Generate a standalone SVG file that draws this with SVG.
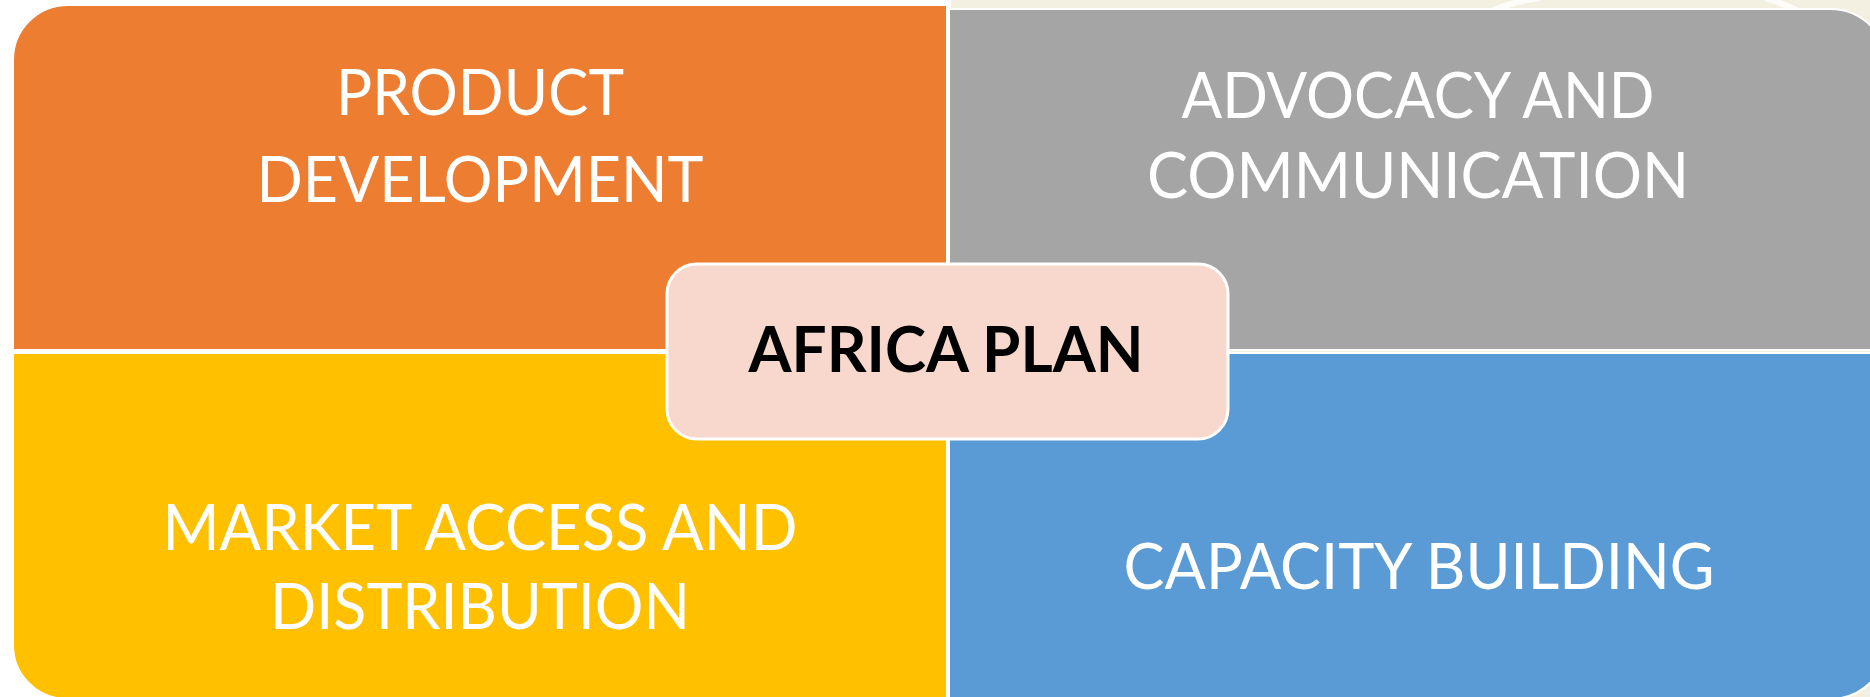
<svg xmlns="http://www.w3.org/2000/svg" width="1870" height="697" viewBox="0 0 1870 697">
<style>
.q{stroke:#ffffff;stroke-width:2}
.t{font-family:Lato,"Open Sans","Liberation Sans",sans-serif;font-size:64px;fill:#ffffff;text-anchor:middle}
.c{font-family:Lato,"Open Sans","Liberation Sans",sans-serif;font-size:64px;font-weight:700;fill:#000000;text-anchor:middle}
</style>
<rect x="0" y="0" width="1870" height="697" fill="#ffffff"/>
<rect x="951" y="0" width="919" height="697" fill="#f3efe1"/>
<g fill="none" stroke="#ffffff" stroke-width="6" opacity="0.8">
<path d="M1490,12 Q1510,2 1540,-2"/>
<path d="M1765,-2 Q1785,4 1800,12"/>
</g>
<g id="product-development">
<path class="q" d="M13,60 A55,55 0 0 1 68,5 H947 V350 H13 Z" fill="#ed7d31"/>
<text class="t" x="480" y="115" textLength="288" lengthAdjust="spacingAndGlyphs">PRODUCT</text>
<text class="t" x="480" y="202" textLength="447" lengthAdjust="spacingAndGlyphs">DEVELOPMENT</text>
</g>
<g id="advocacy-communication">
<path class="q" d="M949,9 H1830 A58,58 0 0 1 1888,67 V350 H949 Z" fill="#a5a5a5"/>
<text class="t" x="1418" y="118" textLength="473" lengthAdjust="spacingAndGlyphs">ADVOCACY AND</text>
<text class="t" x="1418" y="198" textLength="542" lengthAdjust="spacingAndGlyphs">COMMUNICATION</text>
</g>
<g id="market-access-distribution">
<path class="q" d="M13,353 H947 V699 H67 A54,54 0 0 1 13,645 Z" fill="#ffc000"/>
<text class="t" x="480" y="550" textLength="635" lengthAdjust="spacingAndGlyphs">MARKET ACCESS AND</text>
<text class="t" x="480" y="629" textLength="420" lengthAdjust="spacingAndGlyphs">DISTRIBUTION</text>
</g>
<g id="capacity-building">
<path class="q" d="M949,353 H1888 V641 A58,58 0 0 1 1830,699 H949 Z" fill="#5b9bd5"/>
<text class="t" x="1419" y="589" textLength="591" lengthAdjust="spacingAndGlyphs">CAPACITY BUILDING</text>
</g>
<g id="connectors"></g>
<g id="africa-plan">
<rect x="667" y="264" width="561" height="175" rx="30" ry="30" fill="#f8d8cd" stroke="#ffffff" stroke-width="3"/>
<text class="c" x="946" y="372" textLength="395" lengthAdjust="spacingAndGlyphs">AFRICA PLAN</text>
</g>
</svg>
